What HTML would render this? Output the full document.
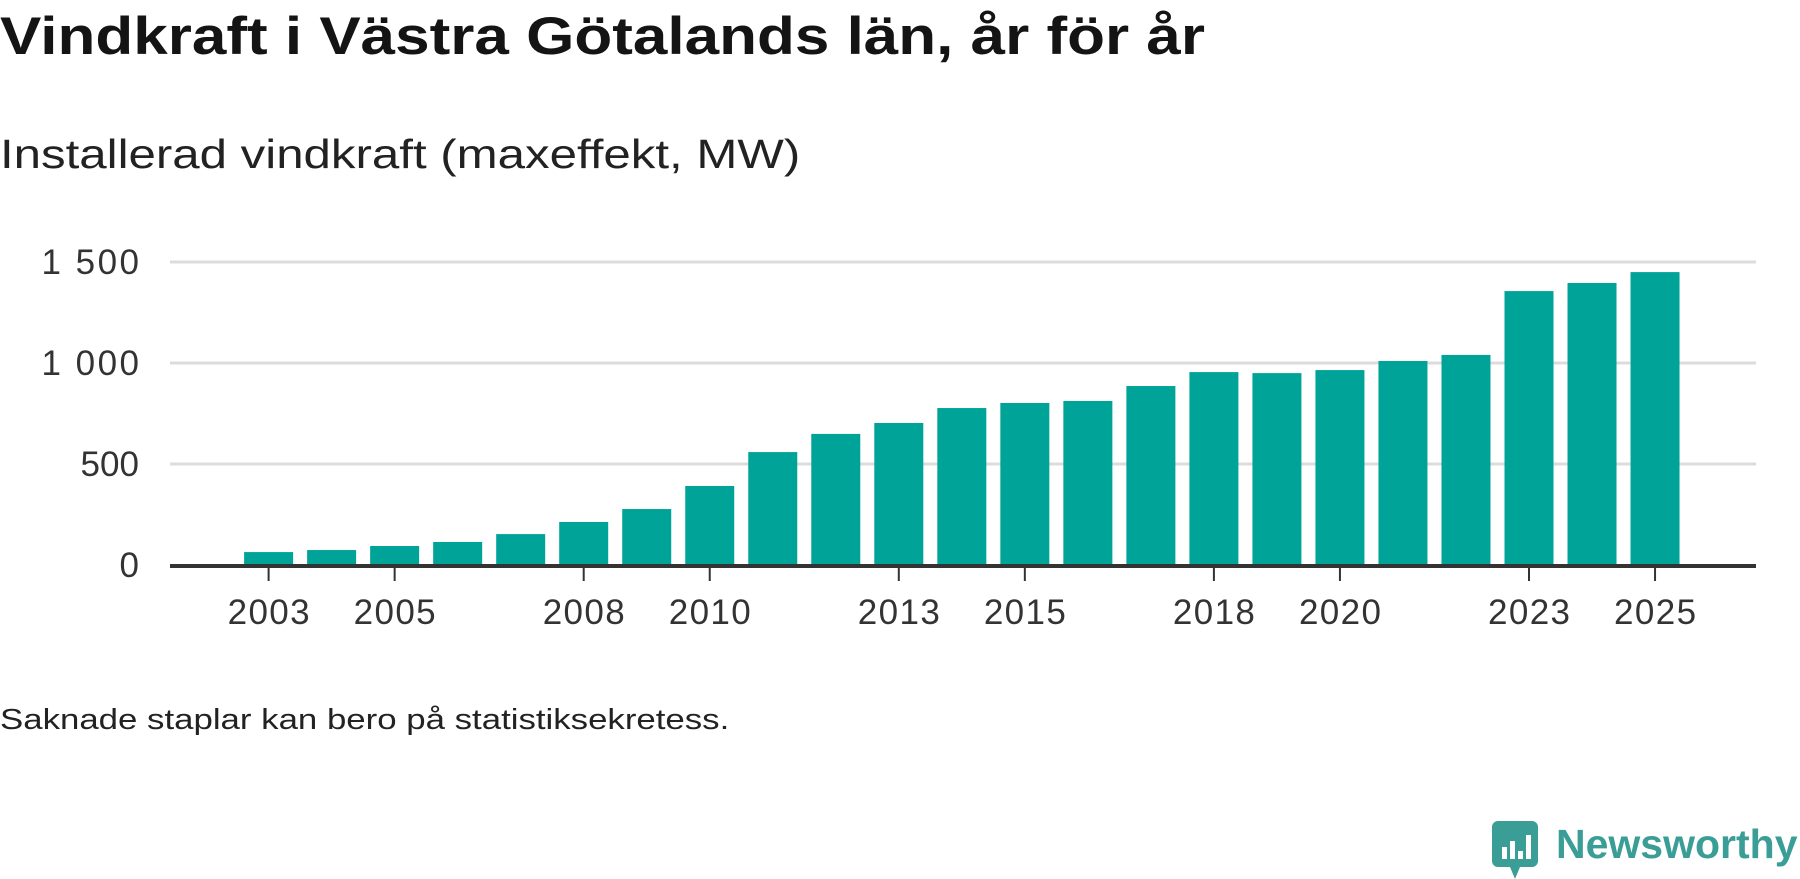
<!DOCTYPE html>
<html><head><meta charset="utf-8"><style>
body{margin:0;width:1800px;height:879px;background:#fff;overflow:hidden;font-family:"Liberation Sans","DejaVu Sans",sans-serif;color:#111}
.t{position:absolute;left:0;white-space:nowrap;transform-origin:0 0}
</style></head><body>
<div class="t" style="top:6px;font-size:53px;font-weight:bold;color:#141414;transform:scaleX(1.17)">Vindkraft i Västra Götalands län, år för år</div>
<div class="t" style="top:131px;font-size:41px;color:#222;transform:scaleX(1.2)">Installerad vindkraft (maxeffekt, MW)</div>
<svg id="chart" width="1800" height="879" style="position:absolute;left:0;top:0"></svg>
<div class="t" style="top:704px;font-size:29px;color:#222;transform:scaleX(1.2)">Saknade staplar kan bero på statistiksekretess.</div>
<div style="position:absolute;left:1490px;top:821px;width:310px;height:58px">
<svg width="50" height="58" style="position:absolute;left:0;top:0">
<path d="M8 0h34a6 6 0 0 1 6 6v34a6 6 0 0 1-6 6H30l-5 12-5-12H8a6 6 0 0 1-6-6V6a6 6 0 0 1 6-6z" fill="#3a9e97"/>
<rect x="12" y="26" width="5" height="12" fill="#fff"/><rect x="20" y="20" width="5" height="18" fill="#fff"/><rect x="28" y="30" width="5" height="8" fill="#fff"/><rect x="36" y="14" width="5" height="24" fill="#fff"/>
</svg>
<div style="position:absolute;left:66px;top:0;font-size:41px;color:#3a9e97;font-weight:bold">Newsworthy</div>
</div>
<script>
const years=[2003,2004,2005,2006,2007,2008,2009,2010,2011,2012,2013,2014,2015,2016,2017,2018,2019,2020,2021,2022,2023,2024,2025];
const values=[64,74,94,114,153,213,277,391,559,649,703,777,802,812,886,955,950,965,1010,1040,1356,1396,1450];
const yTicks=[0,500,1000,1500];
const yTickLabels=["0","500","1 000","1 500"];
const xTicks=[2003,2005,2008,2010,2013,2015,2018,2020,2023,2025];
const NS="http://www.w3.org/2000/svg";
const svg=document.getElementById('chart');
const x0=170,x1=1756,y0=565,pxPerMW=101/500;
const y=v=>y0-v*pxPerMW;
const x=yr=>268.6+(yr-2003)*63.02;
function mk(tag,attrs){const e=document.createElementNS(NS,tag);for(const k in attrs)e.setAttribute(k,attrs[k]);svg.appendChild(e);return e;}
yTicks.forEach((v,i)=>{
  if(v>0){const g=mk('line',{x1:x0,x2:x1,y1:y(v),y2:y(v),stroke:'#dcdcdc','stroke-width':3});
  
  }
  const t=mk('text',{x:139,y:y(v)+12,'text-anchor':'end','font-size':35,fill:'#333','font-family':'Liberation Sans, sans-serif','textLength':(yTickLabels[i].length*19.5)});
  t.textContent=yTickLabels[i];
  
  
});
years.forEach((yr,i)=>{
  const b=mk('rect',{x:x(yr)-24.5,y:y(values[i]),width:49,height:values[i]*pxPerMW,fill:'#00a398'});
  
  
});
const ax=mk('line',{x1:x0,x2:x1,y1:y0+1,y2:y0+1,stroke:'#333','stroke-width':4});


xTicks.forEach(yr=>{
  const tk=mk('line',{x1:x(yr),x2:x(yr),y1:y0+2,y2:y0+16,stroke:'#333','stroke-width':2});
  
  
  const t=mk('text',{x:x(yr),y:624,'text-anchor':'middle','font-size':35,fill:'#333','font-family':'Liberation Sans, sans-serif','textLength':82});
  t.textContent=yr;
  
  
});
</script>
</body></html>
